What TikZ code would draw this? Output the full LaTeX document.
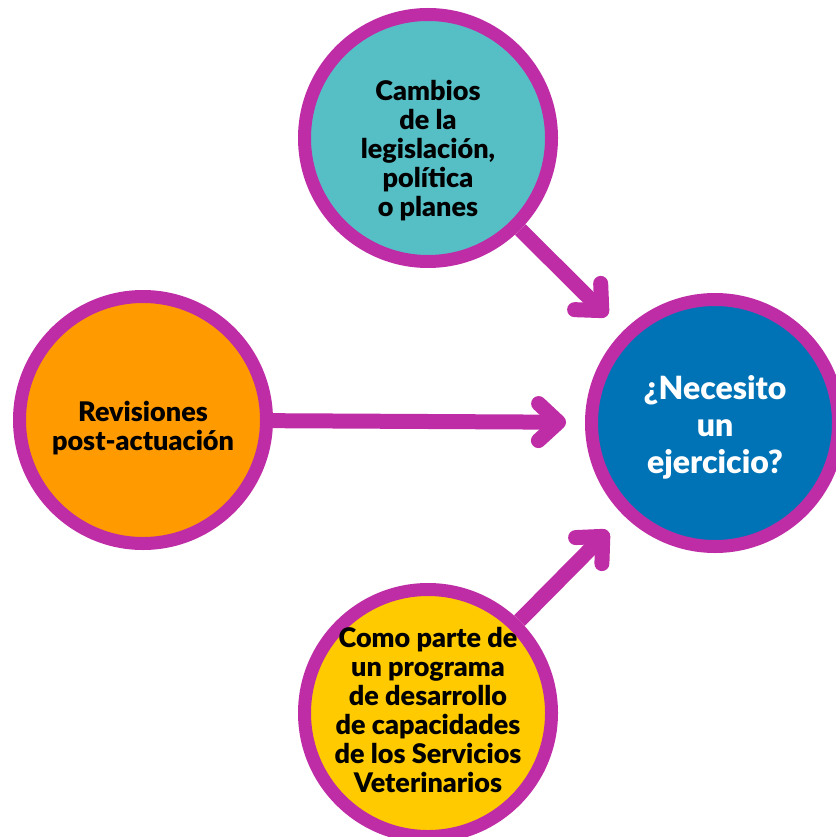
\documentclass[tikz,border=0pt]{standalone}
\usepackage{fontspec}
\setmainfont{Lato}
\newfontfamily\heavyfont{Lato Black}
\usepackage{tikz}
\usetikzlibrary{arrows.meta}
\definecolor{ringmag}{HTML}{BF2DA6}
\definecolor{teal}{HTML}{56BFC6}
\definecolor{orangefill}{HTML}{FF9A00}
\definecolor{bluefill}{HTML}{0073B6}
\definecolor{yellowfill}{HTML}{FFCB00}
\tikzstyle{bubble}=[circle, draw=ringmag, line width=13pt, minimum size=247pt, inner sep=0pt]
\tikzstyle{bubbletext}=[align=center, inner sep=0pt, font=\fontsize{27}{29}\heavyfont]
\tikzstyle{feed}=[draw=ringmag, line width=15pt, -{Straight Barb[length=20pt, width=37pt, round]}, shorten >=22pt]

\begin{document}
\begin{tikzpicture}[x=1pt, y=-1pt]
		   \useasboundingbox (0, 0) rectangle (835, 837);
		   \node (cambios) at (428, 138)[bubble, fill=teal] {};
		   \node (revision) at (143, 420)[bubble, fill=orangefill] {};
		   \node (necesito) at (715, 423)[bubble, fill=bluefill] {};
		   \node (programa) at (428, 713)[bubble, fill=yellowfill] {};
		   \node (cambiost) at ([yshift=-13pt]cambios.center)[bubbletext] {Cambios\\de la\\legislación,\\política\\o planes};
		   \node (revisiont) at ([yshift=-8pt]revision.center)[bubbletext] {Revisiones\\post-actuación};
		   \node (necesitot) at ([yshift=-4pt]necesito.center)[bubbletext, text=white, font=\fontsize{32}{37}\heavyfont] {¿Necesito\\un\\ejercicio?};
		   \node (programat) at ([yshift=3pt]programa.center)[bubbletext] {Como parte de\\un programa\\de desarrollo\\de capacidades\\de los Servicios\\Veterinarios};
		   \draw[feed] (cambios) -- (necesito);
		   \draw[feed, shorten >=19pt] (revision) -- (necesito);
		   \draw[feed] (programa) -- (necesito);
	   \end{tikzpicture}
\end{document}
